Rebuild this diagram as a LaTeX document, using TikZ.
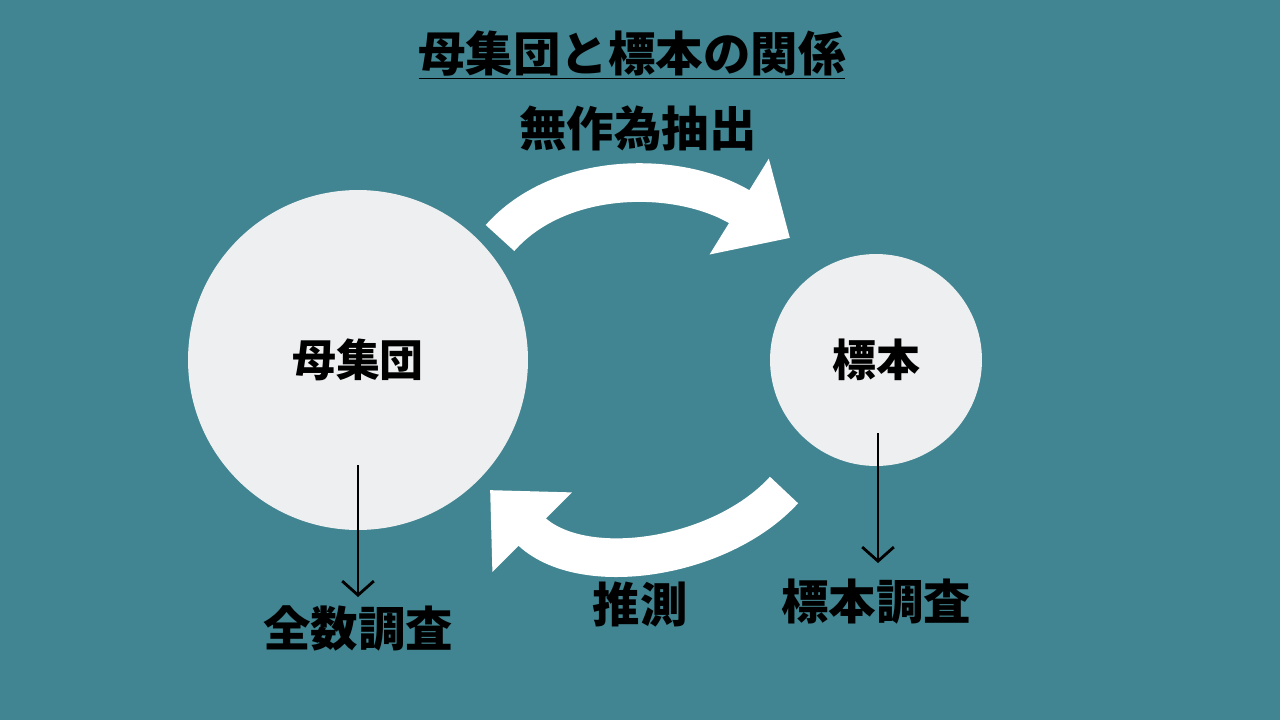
\documentclass[tikz,border=0pt]{standalone}
\usepackage{fontspec}
\newfontfamily\cjk{Noto Sans CJK JP}
\usetikzlibrary{arrows.meta, positioning}
\definecolor{bgteal}{RGB}{64,133,145}
\definecolor{circgray}{RGB}{238,239,241}
\tikzset{
  group/.style={circle, fill=circgray, inner sep=0pt, font=\cjk\bfseries\fontsize{25}{30}\selectfont},
  label/.style={font=\cjk\bfseries\fontsize{27}{32}\selectfont, inner sep=0pt},
  bigarrow/.style={white, line width=22pt, -{Triangle[length=34pt, width=62pt]}},
  thinarrow/.style={black, line width=1.6pt, -{Straight Barb[length=8pt, width=18pt]}}
}
\begin{document}
\begin{tikzpicture}[x=0.02cm, y=-0.02cm]
  % background
  \fill[bgteal] (0,0) rectangle (1280,720);
  \useasboundingbox (0,0) rectangle (1280,720);

  % populations
  \node[group, minimum size=6.8cm] (pop) at (358,360) {母集団};
  \node[group, minimum size=4.24cm] (smp) at (876,360) {標本};

  % title and labels
  \node[label] (title) at (632,55) {\underline{母集団と標本の関係}};
  \node[label] (draw) at (638,128) {無作為抽出};
  \node[label] (full) at (358,628) {全数調査};
  \node[label] (infer) at (640,605) {推測};
  \node[label] (samp) at (876,602) {標本調査};

  % sampling and inference
  \coordinate (a1) at (500,238);
  \coordinate (a2) at (790,238);
  \coordinate (b1) at (784,490);
  \coordinate (b2) at (490,490);
  \draw[bigarrow] (a1) .. controls (560,170) and (680,170) .. (a2);
  \draw[bigarrow] (b1) .. controls (720,560) and (580,580) .. (b2);

  % surveys
  \coordinate (p0) at (358,465);
  \coordinate (p1) at (358,597);
  \coordinate (s0) at (878,433);
  \coordinate (s1) at (878,563);
  \draw[thinarrow] (p0) -- (p1);
  \draw[thinarrow] (s0) -- (s1);
\end{tikzpicture}
\end{document}
